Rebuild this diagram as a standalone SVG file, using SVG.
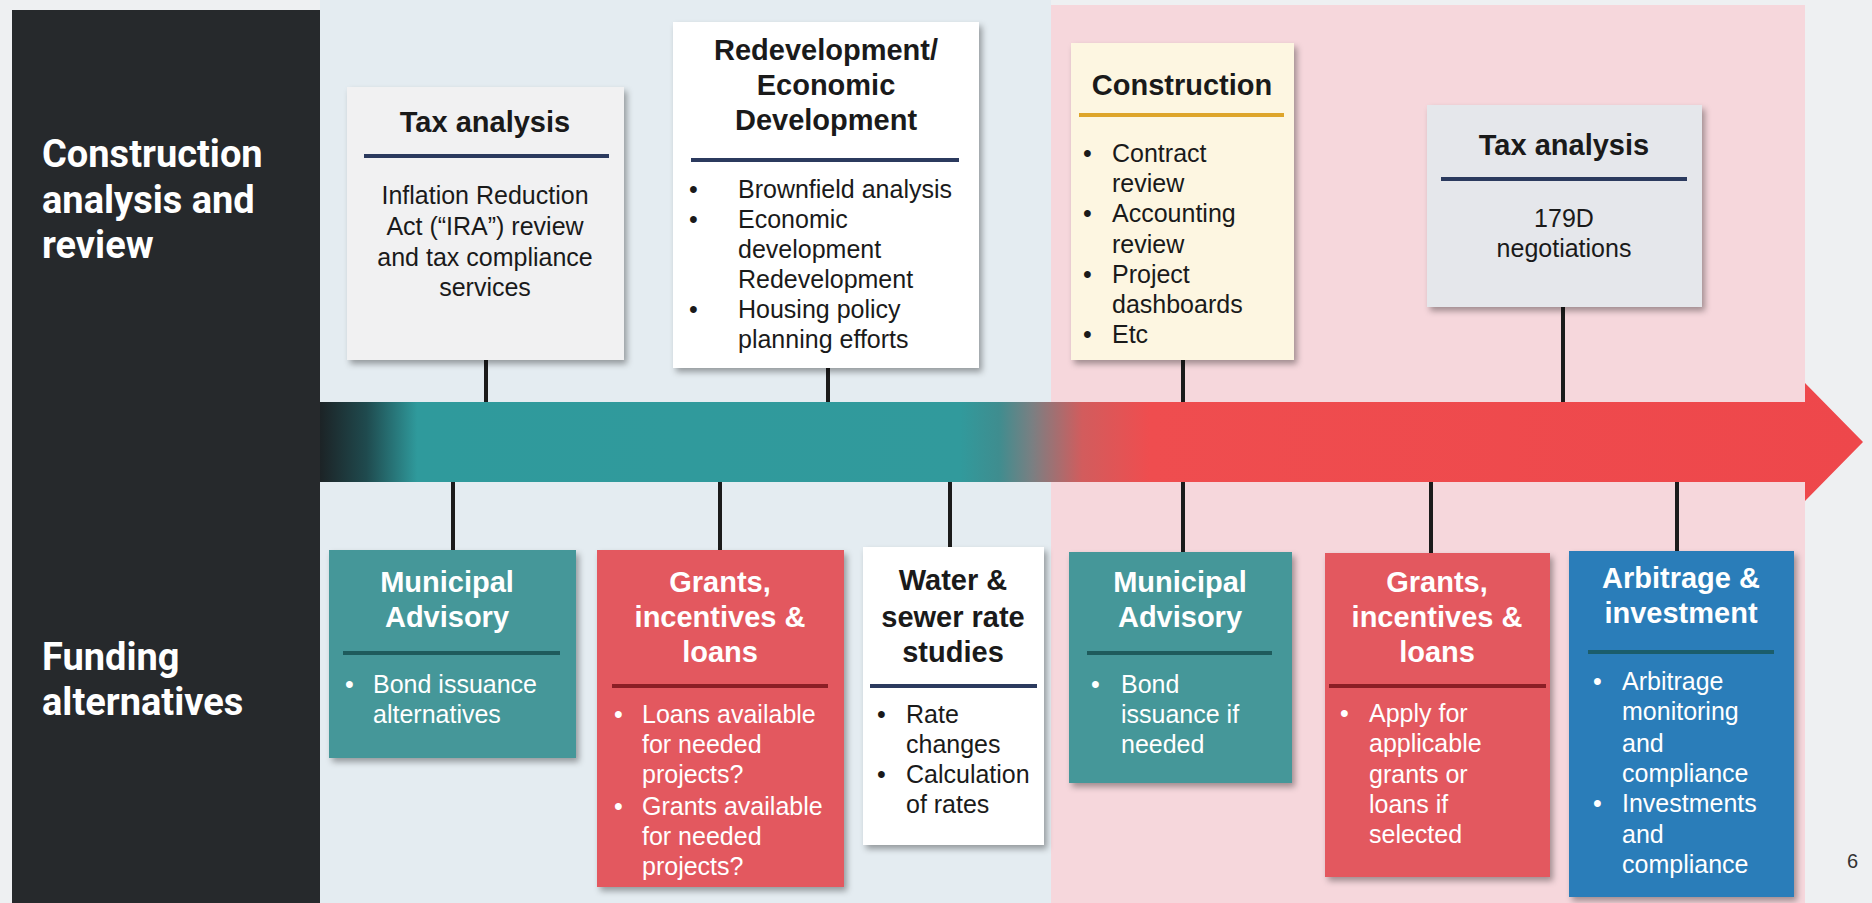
<svg xmlns="http://www.w3.org/2000/svg" width="1872" height="903" viewBox="0 0 1872 903">
<defs>
  <linearGradient id="arrowGrad" gradientUnits="userSpaceOnUse" x1="320" y1="0" x2="1863" y2="0">
    <stop offset="0" stop-color="#1c2326"/>
    <stop offset="0.03" stop-color="#1f4a4e"/>
    <stop offset="0.063" stop-color="#2f9a9c"/>
    <stop offset="0.415" stop-color="#319a9c"/>
    <stop offset="0.44" stop-color="#3f8d8f"/>
    <stop offset="0.462" stop-color="#7b7f82"/>
    <stop offset="0.494" stop-color="#d25c5d"/>
    <stop offset="0.538" stop-color="#ef4d4f"/>
    <stop offset="1" stop-color="#ee474b"/>
  </linearGradient>
  <filter id="shadow" x="-10%" y="-10%" width="130%" height="130%">
    <feDropShadow dx="3" dy="4" stdDeviation="3" flood-color="#000" flood-opacity="0.35"/>
  </filter>
  <style>
    .t { font-family: "Liberation Sans", Arial, sans-serif; font-weight: 700; font-size: 29px; text-anchor: middle; }
    .b { font-family: "Liberation Sans", Arial, sans-serif; font-size: 25px; }
    .c { text-anchor: middle; }
    .dk { fill: #1a1a1a; }
    .wh { fill: #ffffff; }
    .side { font-family: Roboto, "Liberation Sans", sans-serif; font-weight: 700; font-size: 38px; fill: #ffffff; }
    .sep { stroke-width: 4; }
    .conn line { stroke: #1b1b1b; stroke-width: 4; }
    .box { filter: url(#shadow); }
  </style>
</defs>

<!-- background -->
<rect x="0" y="0" width="1872" height="903" fill="#eef0f2"/>
<rect x="320" y="0" width="731" height="903" fill="#e4ecf1"/>
<rect x="1051" y="5" width="754" height="898" fill="#f6d7dc"/>
<rect x="12" y="10" width="308" height="893" fill="#26292c"/>

<g id="side-labels">
  <text class="side" x="42" y="167">Construction</text>
  <text class="side" x="42" y="213">analysis and</text>
  <text class="side" x="42" y="258">review</text>
  <text class="side" x="42" y="670">Funding</text>
  <text class="side" x="42" y="715">alternatives</text>
</g>

<!-- timeline arrow -->
<g id="timeline">
  <polygon points="320,402 1805,402 1805,383 1863,442 1805,501 1805,482 320,482" fill="url(#arrowGrad)"/>
</g>

<g class="conn" id="connectors">
  <line x1="486" y1="360" x2="486" y2="402"/>
  <line x1="828" y1="368" x2="828" y2="402"/>
  <line x1="1183" y1="360" x2="1183" y2="402"/>
  <line x1="1563" y1="307" x2="1563" y2="402"/>
  <line x1="453" y1="482" x2="453" y2="550"/>
  <line x1="720" y1="482" x2="720" y2="550"/>
  <line x1="950" y1="482" x2="950" y2="547"/>
  <line x1="1183" y1="482" x2="1183" y2="552"/>
  <line x1="1431" y1="482" x2="1431" y2="553"/>
  <line x1="1677" y1="482" x2="1677" y2="551"/>
</g>

<!-- top nodes -->
<g id="tax-analysis-1">
  <rect class="box" x="347" y="87" width="277" height="273" fill="#f1f1f2"/>
  <text class="t dk" x="485" y="132">Tax analysis</text>
  <line class="sep" x1="364" y1="156" x2="609" y2="156" stroke="#2b3a5e"/>
  <text class="b c dk" x="485" y="204">Inflation Reduction</text>
  <text class="b c dk" x="485" y="235">Act (“IRA”) review</text>
  <text class="b c dk" x="485" y="266">and tax compliance</text>
  <text class="b c dk" x="485" y="296">services</text>
</g>

<g id="redevelopment">
  <rect class="box" x="673" y="22" width="306" height="346" fill="#ffffff"/>
  <text class="t dk" x="826" y="60">Redevelopment/</text>
  <text class="t dk" x="826" y="95">Economic</text>
  <text class="t dk" x="826" y="130">Development</text>
  <line class="sep" x1="691" y1="160" x2="959" y2="160" stroke="#2b3a5e"/>
  <text class="b dk" x="689" y="198">•</text><text class="b dk" x="738" y="198">Brownfield analysis</text>
  <text class="b dk" x="689" y="228">•</text><text class="b dk" x="738" y="228">Economic</text>
  <text class="b dk" x="738" y="258">development</text>
  <text class="b dk" x="738" y="288">Redevelopment</text>
  <text class="b dk" x="689" y="318">•</text><text class="b dk" x="738" y="318">Housing policy</text>
  <text class="b dk" x="738" y="348">planning efforts</text>
</g>

<g id="construction">
  <rect class="box" x="1071" y="43" width="223" height="317" fill="#fdf6e1"/>
  <text class="t dk" x="1182" y="95">Construction</text>
  <line class="sep" x1="1079" y1="115" x2="1284" y2="115" stroke="#dea52a"/>
  <text class="b dk" x="1083" y="162">•</text><text class="b dk" x="1112" y="162">Contract</text>
  <text class="b dk" x="1112" y="192">review</text>
  <text class="b dk" x="1083" y="222">•</text><text class="b dk" x="1112" y="222">Accounting</text>
  <text class="b dk" x="1112" y="253">review</text>
  <text class="b dk" x="1083" y="283">•</text><text class="b dk" x="1112" y="283">Project</text>
  <text class="b dk" x="1112" y="313">dashboards</text>
  <text class="b dk" x="1083" y="343">•</text><text class="b dk" x="1112" y="343">Etc</text>
</g>

<g id="tax-analysis-2">
  <rect class="box" x="1427" y="105" width="275" height="202" fill="#e5e7eb"/>
  <text class="t dk" x="1564" y="155">Tax analysis</text>
  <line class="sep" x1="1441" y1="179" x2="1687" y2="179" stroke="#2b3a5e"/>
  <text class="b c dk" x="1564" y="227">179D</text>
  <text class="b c dk" x="1564" y="257">negotiations</text>
</g>

<!-- bottom nodes -->
<g id="municipal-advisory-1">
  <rect class="box" x="329" y="550" width="247" height="208" fill="#449799"/>
  <text class="t wh" x="447" y="592">Municipal</text>
  <text class="t wh" x="447" y="627">Advisory</text>
  <line class="sep" x1="343" y1="653" x2="560" y2="653" stroke="#1e5b5c"/>
  <text class="b wh" x="345" y="693">•</text><text class="b wh" x="373" y="693">Bond issuance</text>
  <text class="b wh" x="373" y="723">alternatives</text>
</g>

<g id="grants-1">
  <rect class="box" x="597" y="550" width="247" height="337" fill="#e3585f"/>
  <text class="t wh" x="720" y="592">Grants,</text>
  <text class="t wh" x="720" y="627">incentives &amp;</text>
  <text class="t wh" x="720" y="662">loans</text>
  <line class="sep" x1="612" y1="686" x2="828" y2="686" stroke="#8b1e25"/>
  <text class="b wh" x="614" y="723">•</text><text class="b wh" x="642" y="723">Loans available</text>
  <text class="b wh" x="642" y="753">for needed</text>
  <text class="b wh" x="642" y="783">projects?</text>
  <text class="b wh" x="614" y="815">•</text><text class="b wh" x="642" y="815">Grants available</text>
  <text class="b wh" x="642" y="845">for needed</text>
  <text class="b wh" x="642" y="875">projects?</text>
</g>

<g id="water-sewer">
  <rect class="box" x="863" y="547" width="181" height="298" fill="#ffffff"/>
  <text class="t dk" x="953" y="590">Water &amp;</text>
  <text class="t dk" x="953" y="627">sewer rate</text>
  <text class="t dk" x="953" y="662">studies</text>
  <line class="sep" x1="870" y1="686" x2="1037" y2="686" stroke="#2b3a5e"/>
  <text class="b dk" x="877" y="723">•</text><text class="b dk" x="906" y="723">Rate</text>
  <text class="b dk" x="906" y="753">changes</text>
  <text class="b dk" x="877" y="783">•</text><text class="b dk" x="906" y="783">Calculation</text>
  <text class="b dk" x="906" y="813">of rates</text>
</g>

<g id="municipal-advisory-2">
  <rect class="box" x="1069" y="552" width="223" height="231" fill="#449799"/>
  <text class="t wh" x="1180" y="592">Municipal</text>
  <text class="t wh" x="1180" y="627">Advisory</text>
  <line class="sep" x1="1087" y1="653" x2="1272" y2="653" stroke="#1e5b5c"/>
  <text class="b wh" x="1091" y="693">•</text><text class="b wh" x="1121" y="693">Bond</text>
  <text class="b wh" x="1121" y="723">issuance if</text>
  <text class="b wh" x="1121" y="753">needed</text>
</g>

<g id="grants-2">
  <rect class="box" x="1325" y="553" width="225" height="324" fill="#e3585f"/>
  <text class="t wh" x="1437" y="592">Grants,</text>
  <text class="t wh" x="1437" y="627">incentives &amp;</text>
  <text class="t wh" x="1437" y="662">loans</text>
  <line class="sep" x1="1329" y1="686" x2="1546" y2="686" stroke="#8b1e25"/>
  <text class="b wh" x="1340" y="722">•</text><text class="b wh" x="1369" y="722">Apply for</text>
  <text class="b wh" x="1369" y="752">applicable</text>
  <text class="b wh" x="1369" y="783">grants or</text>
  <text class="b wh" x="1369" y="813">loans if</text>
  <text class="b wh" x="1369" y="843">selected</text>
</g>

<g id="arbitrage">
  <rect class="box" x="1569" y="551" width="225" height="346" fill="#2b7db9"/>
  <text class="t wh" x="1681" y="588">Arbitrage &amp;</text>
  <text class="t wh" x="1681" y="623">investment</text>
  <line class="sep" x1="1588" y1="652" x2="1774" y2="652" stroke="#1b5d6b"/>
  <text class="b wh" x="1593" y="690">•</text><text class="b wh" x="1622" y="690">Arbitrage</text>
  <text class="b wh" x="1622" y="720">monitoring</text>
  <text class="b wh" x="1622" y="752">and</text>
  <text class="b wh" x="1622" y="782">compliance</text>
  <text class="b wh" x="1593" y="812">•</text><text class="b wh" x="1622" y="812">Investments</text>
  <text class="b wh" x="1622" y="843">and</text>
  <text class="b wh" x="1622" y="873">compliance</text>
</g>

<text id="page-number" x="1847" y="868" font-family="Liberation Sans, Arial, sans-serif" font-size="20" fill="#333333">6</text>
</svg>
